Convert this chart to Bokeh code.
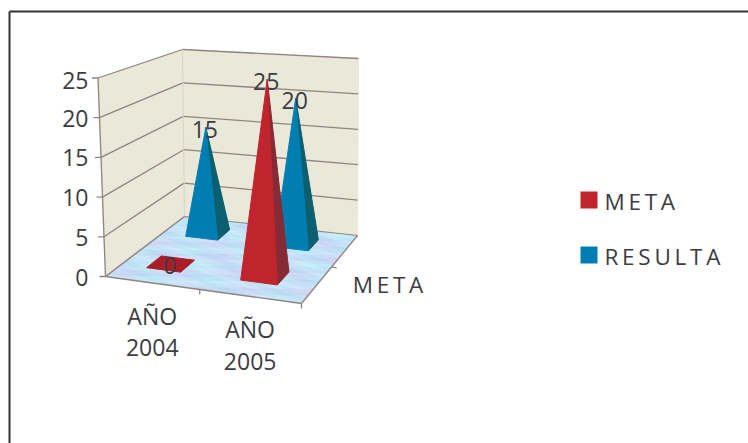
import math
import numpy as np
from bokeh.plotting import figure
from bokeh.embed import file_html
from bokeh.resources import INLINE
from bokeh.core.properties import value

# Chart values
years = ["AÑO\n2004", "AÑO\n2005"]
meta = [0, 25]
resulta = [15, 20]
series_names = ["META", "RESULTA"]
y_ticks = [0, 5, 10, 15, 20, 25]
y_max = 25

FONT = "Open Sans"
TEXT = "#3c3c42"
RED, RED_DARK, RED_FLAT = "#c0242d", "#862b36", "#a81d28"
BLUE, BLUE_DARK = "#007eb1", "#0b5f6e"
WALL = "#eae8d9"
EDGE = "#8f8480"

# Corners of the 3D plot box on the page: floor and ceiling planes
FLOOR = [(105, 276), (301, 303), (357, 235), (184, 216)]
CEIL = [(97.5, 77.5), (315, 96), (358, 58), (182, 49)]


def homography(c):
    src = [(0, 0), (1, 0), (1, 1), (0, 1)]
    a, b = [], []
    for (u, v), (x, y) in zip(src, c):
        a.append([u, v, 1, 0, 0, 0, -u * x, -v * x]); b.append(x)
        a.append([0, 0, 0, u, v, 1, -u * y, -v * y]); b.append(y)
    h = np.linalg.solve(np.array(a, float), np.array(b, float))
    return np.append(h, 1).reshape(3, 3)


HF, HC = homography(FLOOR), homography(CEIL)


def plane(h, u, v):
    w = h @ np.array([u, v, 1.0])
    return w[:2] / w[2]


def pt(u, v, val=0.0):
    t = val / y_max
    return tuple((1 - t) * plane(HF, u, v) + t * plane(HC, u, v))


def poly(p, pts, color, edge=None, width=1.0, alpha=1.0):
    p.patch([a[0] for a in pts], [a[1] for a in pts], fill_color=color, fill_alpha=alpha,
            line_color=edge or color, line_width=width)


def seg(p, a, b, color=EDGE, width=1.3):
    p.line([a[0], b[0]], [a[1], b[1]], line_color=color, line_width=width)


def label(p, x, y, s, size="23px", align="center", baseline="middle", color=TEXT):
    p.text([x], [y], text=[s], text_font=value(FONT), text_font_size=value(size),
           text_align=align, text_baseline=baseline, text_color=color)


p = figure(width=748, height=443, x_range=(0, 748), y_range=(443, 0), toolbar_location=None,
           output_backend="svg", min_border=0, outline_line_color=None, background_fill_color="white",
           border_fill_color="white")
p.axis.visible = False
p.grid.visible = False

# Chart frame: only the top and left rules fall inside the page
p.line([9, 9], [443, 11], line_color="#333338", line_width=2)
p.line([9, 748], [11, 11], line_color="#333338", line_width=2)

# Back walls
poly(p, [pt(0, 0), pt(0, 1), pt(0, 1, y_max), pt(0, 0, y_max)], WALL)
poly(p, [pt(0, 1), pt(1, 1), pt(1, 1, y_max), pt(0, 1, y_max)], WALL)

# Gridlines and value ticks
for t in y_ticks:
    if t > 0:
        seg(p, pt(0, 0, t), pt(0, 1, t))
        seg(p, pt(0, 1, t), pt(1, 1, t))
    a = pt(0, 0, t)
    seg(p, (a[0] - 6, a[1]), a)
    label(p, 88, a[1] + (2 if t == y_max else 0.5), str(t), align="right")
seg(p, pt(0, 0), pt(0, 0, y_max))
seg(p, pt(0, 1), pt(0, 1, y_max), color="#d8d5c8", width=1)

# Mottled floor, built from small cells of varying tint
nu, nv = 48, 30
for i in range(nu):
    for j in range(nv):
        n = (math.sin(i * 0.37 + j * 0.83) + math.sin(i * 0.19 - j * 1.31) + math.sin(i * 0.71 + j * 2.9)) / 3
        m = math.sin(j * 0.67 + i * 0.11) * math.cos(i * 0.29 - j * 0.23)
        r = int(197 + 15 * n + 6 * m)
        g = int(224 + 9 * n - 10 * m)
        b = int(247 + 5 * n)
        u0, u1, v0, v1 = i / nu, (i + 1) / nu, j / nv, (j + 1) / nv
        poly(p, [pt(u0, v0), pt(u1, v0), pt(u1, v1), pt(u0, v1)], f"#{r:02x}{g:02x}{min(b, 255):02x}", width=0.6)

# Floor border and its axis ticks
seg(p, pt(0, 0), pt(1, 0))
seg(p, pt(0, 0), pt(0, 1), width=1.5)
seg(p, pt(1, 0), pt(1, 1))
seg(p, pt(0, 1), pt(1, 1), width=1)
for u in (0.5, 1.0):
    a = pt(u, 0)
    seg(p, a, (a[0], a[1] + 5))
a = pt(1, 0.5)
seg(p, a, (a[0] + 5, a[1] + 1))

# Cones of each series, rear row first; each shows a front and a right face
HU, HV = 0.0925, 0.09
U_SHIFT = -0.0175
rows = [(0.775, resulta, BLUE, BLUE_DARK), (0.27, meta, RED, RED_DARK)]
tops = []
for v_c, vals, front, side in rows:
    for k, val in enumerate(vals):
        u_c = (k + 0.5) / len(vals) + U_SHIFT
        if val == 0:
            poly(p, [pt(u_c - HU, v_c - HV), pt(u_c + HU, v_c - HV), pt(u_c + HU, v_c + HV), pt(u_c - HU, v_c + HV)], RED_FLAT)
        else:
            apex = pt(u_c, v_c, val)
            fl, fr, br = pt(u_c - HU, v_c - HV), pt(u_c + HU, v_c - HV), pt(u_c + HU, v_c + HV)
            poly(p, [fr, br, apex], side)
            poly(p, [fl, fr, apex], front)
        tops.append((pt(u_c, v_c, val), val))

# Value labels sit on the tips
for (x, y), val in tops:
    label(p, x - 1, y + 2, str(val))

# Category and depth labels
for k, name in enumerate(years):
    a = pt((k + 0.5) / len(years), 0)
    line1, line2 = name.split("\n")
    label(p, a[0] + 0.5, a[1] + 33, line1)
    label(p, a[0] + 0.5, a[1] + 65, line2)
a = pt(1, 0.5)
label(p, a[0] + 21, a[1] + 18, "\u2009".join(series_names[0]), size="22.5px", align="left")

# Legend
for y, name, color in zip((199.5, 254.5), series_names, (RED, BLUE)):
    p.rect([588.5], [y], width=17, height=17, fill_color=color, line_color=color, line_width=0)
    label(p, 604, y + 1, "\u2009".join(name), size="22.5px", align="left")

open("out.html", "w").write(file_html(p, INLINE))
